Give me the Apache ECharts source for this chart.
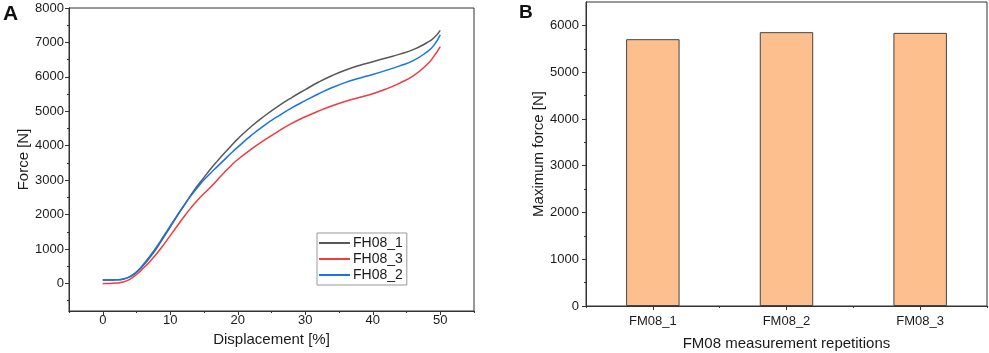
<!DOCTYPE html>
<html>
<head>
<meta charset="utf-8">
<script src="https://cdn.jsdelivr.net/npm/echarts@6/dist/echarts.min.js"></script>
<style>
  html, body { margin: 0; padding: 0; background: #fff; }
  #main { width: 989px; height: 353px; }
</style>
</head>
<body>
<div id="main"></div>
<script>
// Panel A: force vs displacement curves
const dispX = [0, 1, 2, 3, 4, 5, 6, 7, 8, 9, 10, 11, 12, 13, 14, 15, 16, 17, 18, 19, 20,
  22, 24, 26, 28, 30, 32, 34, 36, 38, 40, 42, 44, 46, 48, 49, 50];
const fh08_1 = [100, 100, 105, 125, 190, 320, 520, 760, 1030, 1330, 1640, 1950, 2250, 2550, 2830, 3080, 3330, 3560, 3780, 3990, 4200,
  4560, 4870, 5150, 5400, 5630, 5850, 6040, 6200, 6330, 6440, 6550, 6660, 6790, 6990, 7120, 7350];
const fh08_2 = [100, 100, 105, 130, 200, 340, 550, 800, 1070, 1370, 1670, 1970, 2260, 2530, 2780, 3010, 3210, 3400, 3590, 3780, 3960,
  4300, 4600, 4860, 5100, 5310, 5510, 5690, 5840, 5960, 6070, 6190, 6320, 6470, 6720, 6900, 7220];
const fh08_3 = [0, 0, 10, 40, 120, 260, 440, 640, 870, 1120, 1390, 1660, 1930, 2180, 2410, 2610, 2800, 3010, 3220, 3420, 3600,
  3900, 4170, 4420, 4650, 4840, 5010, 5160, 5290, 5400, 5510, 5650, 5820, 6030, 6350, 6580, 6880];

// Panel B: maximum force per repetition
const reps = ['FM08_1', 'FM08_2', 'FM08_3'];
const maxForce = [5705, 5855, 5840];

// tick labels
const dispTicks = [0, 10, 20, 30, 40, 50];
const dispMinor = [-5, 5, 15, 25, 35, 45, 55];
const forceTicks = [0, 1000, 2000, 3000, 4000, 5000, 6000, 7000, 8000];
const forceMinor = [-500, 500, 1500, 2500, 3500, 4500, 5500, 6500, 7500];
const maxTicks = [0, 1000, 2000, 3000, 4000, 5000, 6000];
const maxMinor = [500, 1500, 2500, 3500, 4500, 5500];

const FONT = 'Liberation Sans, Arial, sans-serif';
const AX = '#333';
const TXT = '#1a1a1a';

function pairs(xs, ys) {
  return xs.map((x, i) => [x, ys[i]]);
}
const plain = v => String(v);

const chart = echarts.init(document.getElementById('main'));

const baseAxis = {
  axisLine: { show: true, onZero: false, lineStyle: { color: AX, width: 1 } },
  splitLine: { show: false },
};

chart.setOption({
  animation: false,
  textStyle: { fontFamily: FONT },
  graphic: [
    { type: 'text', left: 3, top: 4, style: { text: 'A', font: 'bold 21px ' + FONT, fill: '#111' } },
    { type: 'text', left: 519, top: 3, style: { text: 'B', font: 'bold 19px ' + FONT, fill: '#111' } },
  ],
  grid: [
    { left: 69, right: 515, top: 8, bottom: 42, show: true, borderColor: AX, borderWidth: 1, outerBoundsMode: 'none' },
    { left: 586, right: 2, top: 2, bottom: 47, show: true, borderColor: AX, borderWidth: 1, outerBoundsMode: 'none' },
  ],
  legend: {
    data: ['FH08_1', 'FH08_3', 'FH08_2'],
    orient: 'vertical',
    left: 317,
    top: 233,
    borderColor: '#999',
    borderWidth: 1,
    borderRadius: 0,
    padding: [3, 4, 3, 2],
    itemGap: 2,
    itemWidth: 31,
    itemHeight: 2,
    icon: 'rect',
    textStyle: { fontSize: 14, color: TXT, fontFamily: FONT, padding: [0, 0, 0, -2] },
  },
  xAxis: [
    Object.assign({}, baseAxis, {
      gridIndex: 0, type: 'value', min: -5, max: 55,
      name: 'Displacement [%]', nameLocation: 'middle', nameGap: 20,
      nameTextStyle: { fontSize: 15, color: TXT },
      axisTick: { show: true, length: 4, customValues: dispTicks, lineStyle: { color: AX } },
      axisLabel: { fontSize: 13, color: TXT, margin: 3, customValues: dispTicks, formatter: plain },
    }),
    Object.assign({}, baseAxis, {
      gridIndex: 0, type: 'value', min: -5, max: 55, position: 'bottom',
      axisTick: { show: true, length: 2, customValues: dispMinor, lineStyle: { color: AX } },
      axisLabel: { show: false },
    }),
    Object.assign({}, baseAxis, {
      gridIndex: 1, type: 'category', data: reps,
      name: 'FM08 measurement repetitions', nameLocation: 'middle', nameGap: 30,
      nameTextStyle: { fontSize: 15, color: TXT },
      axisTick: { show: true, length: 4, alignWithLabel: true, lineStyle: { color: AX } },
      axisLabel: { fontSize: 13, color: TXT, margin: 9 },
    }),
    Object.assign({}, baseAxis, {
      gridIndex: 1, type: 'category', data: reps, position: 'bottom',
      axisTick: { show: true, length: 2, lineStyle: { color: AX } },
      axisLabel: { show: false },
    }),
  ],
  yAxis: [
    Object.assign({}, baseAxis, {
      gridIndex: 0, type: 'value', min: -800, max: 8000,
      name: 'Force [N]', nameLocation: 'middle', nameGap: 36,
      nameTextStyle: { fontSize: 15, color: TXT },
      axisTick: { show: true, length: 4, customValues: forceTicks, lineStyle: { color: AX } },
      axisLabel: { fontSize: 13, color: TXT, margin: 5, customValues: forceTicks, formatter: plain },
    }),
    Object.assign({}, baseAxis, {
      gridIndex: 0, type: 'value', min: -800, max: 8000, position: 'left',
      axisTick: { show: true, length: 2, customValues: forceMinor, lineStyle: { color: AX } },
      axisLabel: { show: false },
    }),
    Object.assign({}, baseAxis, {
      gridIndex: 1, type: 'value', min: 0, max: 6500,
      name: 'Maximum force [N]', nameLocation: 'middle', nameGap: 40,
      nameTextStyle: { fontSize: 15, color: TXT },
      axisTick: { show: true, length: 4, customValues: maxTicks, lineStyle: { color: AX } },
      axisLabel: { fontSize: 13, color: TXT, margin: 7, customValues: maxTicks, formatter: plain },
    }),
    Object.assign({}, baseAxis, {
      gridIndex: 1, type: 'value', min: 0, max: 6500, position: 'left',
      axisTick: { show: true, length: 2, customValues: maxMinor, lineStyle: { color: AX } },
      axisLabel: { show: false },
    }),
  ],
  series: [
    {
      name: 'FH08_1', type: 'line', xAxisIndex: 0, yAxisIndex: 0,
      data: pairs(dispX, fh08_1), smooth: 0.5, showSymbol: false,
      lineStyle: { color: '#585858', width: 1.5 }, itemStyle: { color: '#585858' },
    },
    {
      name: 'FH08_3', type: 'line', xAxisIndex: 0, yAxisIndex: 0,
      data: pairs(dispX, fh08_3), smooth: 0.5, showSymbol: false,
      lineStyle: { color: '#f23a3f', width: 1.5 }, itemStyle: { color: '#f23a3f' },
    },
    {
      name: 'FH08_2', type: 'line', xAxisIndex: 0, yAxisIndex: 0,
      data: pairs(dispX, fh08_2), smooth: 0.5, showSymbol: false,
      lineStyle: { color: '#1874e6', width: 1.5 }, itemStyle: { color: '#1874e6' },
    },
    {
      name: 'Maximum force', type: 'bar', xAxisIndex: 2, yAxisIndex: 2,
      data: maxForce, barWidth: '40%',
      itemStyle: { color: '#fdbf8e', borderColor: '#444', borderWidth: 1 },
    },
  ],
});
</script>
</body>
</html>
